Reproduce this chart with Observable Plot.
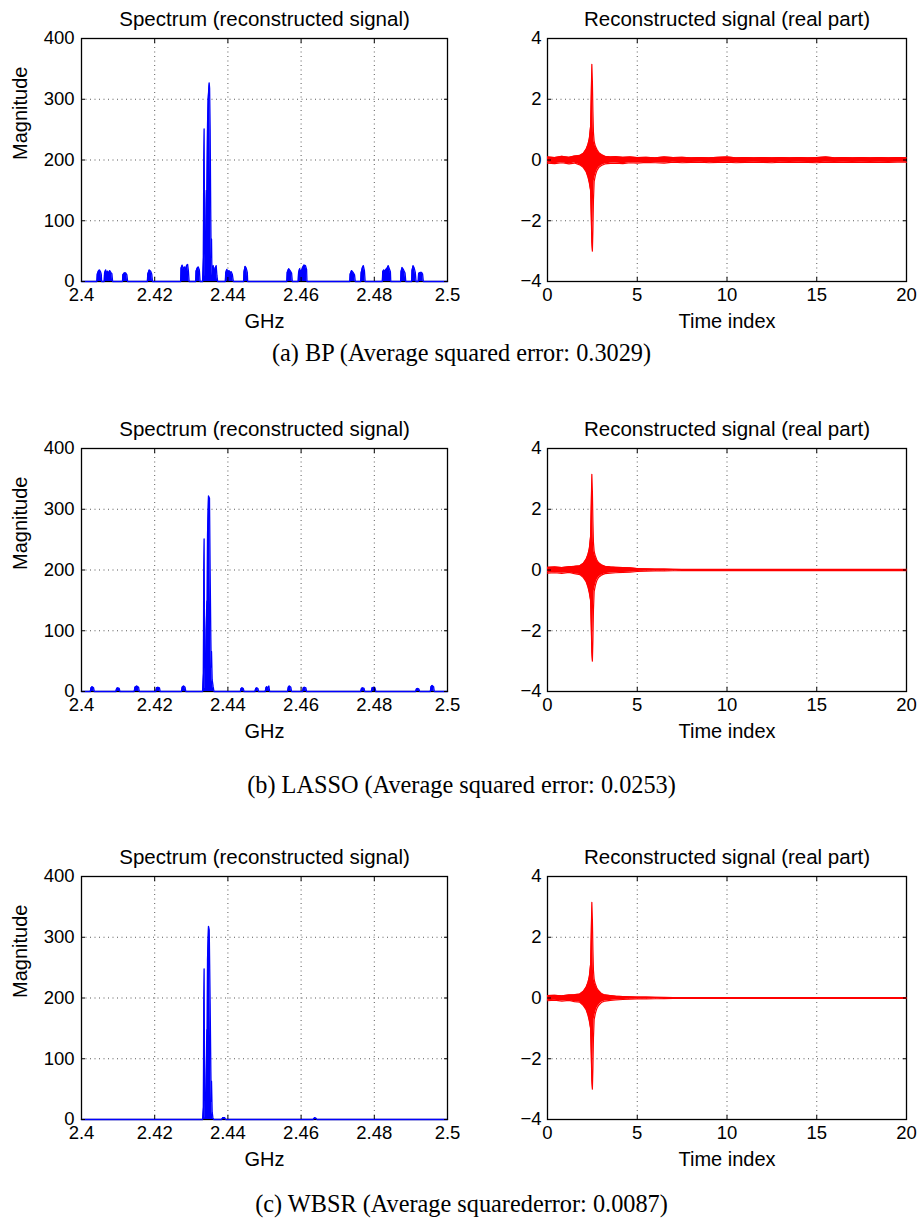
<!DOCTYPE html>
<html><head><meta charset="utf-8">
<script src="https://cdn.jsdelivr.net/npm/d3@7"></script>
<script src="https://cdn.jsdelivr.net/npm/@observablehq/plot@0.6"></script>
<style>
body{margin:0;background:#fff;}
#fig{position:relative;width:919px;height:1226px;overflow:hidden;background:#fff;}
.panel{position:absolute;}
.caption{position:absolute;left:0;width:923px;text-align:center;font-family:"Liberation Serif","Times New Roman",serif;font-size:24.3px;line-height:24px;color:#000;white-space:nowrap;}
</style></head><body><div id="fig"></div>
<script>
// ---------- tick values / labels ----------
const specTicks = [2.4, 2.42, 2.44, 2.46, 2.48, 2.5];
const specTickLabels = ["2.4", "2.42", "2.44", "2.46", "2.48", "2.5"];
const magTicks = [0, 100, 200, 300, 400];
const magTickLabels = ["0", "100", "200", "300", "400"];
const timeTicks = [0, 5, 10, 15, 20];
const timeTickLabels = ["0", "5", "10", "15", "20"];
const ampTicks = [-4, -2, 0, 2, 4];
const ampTickLabels = ["\u22124", "\u22122", "0", "2", "4"];

const specTitle = "Spectrum (reconstructed signal)";
const timeTitle = "Reconstructed signal (real part)";
const specXLabel = "GHz";
const timeXLabel = "Time index";
const specYLabel = "Magnitude";
const captions = [
  "(a) BP (Average squared error: 0.3029)",
  "(b) LASSO (Average squared error: 0.0253)",
  "(c) WBSR (Average squarederror: 0.0087)"
];

// ---------- spectra [GHz, magnitude] ----------
const bpSpectrum = [
  [2.4,0],
  [2.4042,0],[2.4043,12],[2.4046,17],[2.4049,19],[2.4052,16],[2.4054,12],[2.4055,0],
  [2.4062,0],[2.4063,14],[2.4066,19],[2.4069,12],[2.4071,17],[2.4074,13],[2.4077,18],[2.4080,15],[2.4083,13],[2.4085,0],
  [2.4112,0],[2.4113,11],[2.4117,14],[2.4121,14],[2.4124,11],[2.4126,0],
  [2.4180,0],[2.4181,12],[2.4185,19],[2.4189,17],[2.4192,12],[2.4194,0],
  [2.4271,0],[2.4272,22],[2.4275,27],[2.4278,20],[2.4281,24],[2.4284,19],[2.4287,26],[2.4290,28],[2.4292,18],[2.4294,0],
  [2.4312,0],[2.4313,17],[2.4316,22],[2.4319,24],[2.4322,19],[2.4324,0],
  [2.4331,0],[2.4333,40],[2.4334,200],[2.4335,251],[2.4336,110],[2.4337,12],[2.4338,8],[2.43395,60],[2.4341,150],[2.4342,110],
  [2.43443,257],[2.4346,300],[2.43488,327],[2.4350,318],[2.43515,250],[2.4353,120],[2.43542,40],[2.43552,70],[2.4356,30],
  [2.4358,8],[2.4360,26],[2.4362,12],[2.4365,22],[2.4368,26],[2.4370,10],[2.4372,0],
  [2.4393,0],[2.4394,14],[2.4397,20],[2.4400,16],[2.4403,18],[2.4406,14],[2.4409,16],[2.4412,12],[2.4415,0],
  [2.4443,0],[2.4444,16],[2.4447,25],[2.4450,22],[2.4453,15],[2.4454,0],
  [2.4561,0],[2.4562,15],[2.4566,21],[2.4570,18],[2.4574,14],[2.4576,0],
  [2.4592,0],[2.4593,14],[2.4596,21],[2.4599,16],[2.4602,19],[2.4605,24],[2.4608,27],[2.4612,26],[2.4615,20],[2.4616,0],
  [2.4733,0],[2.4734,12],[2.4738,18],[2.4742,15],[2.4746,11],[2.4748,0],
  [2.4763,0],[2.4764,14],[2.4767,22],[2.4770,26],[2.4773,18],[2.4775,0],
  [2.4822,0],[2.4823,16],[2.4826,19],[2.4829,17],[2.4832,20],[2.4835,22],[2.4838,26],[2.4841,21],[2.4844,16],[2.4845,0],
  [2.4872,0],[2.4873,16],[2.4876,23],[2.4880,19],[2.4884,14],[2.4886,0],
  [2.4902,0],[2.4903,18],[2.4906,26],[2.4909,22],[2.4912,15],[2.4914,0],
  [2.4920,0],[2.4921,13],[2.4925,15],[2.4929,15],[2.4932,12],[2.4934,0],
  [2.5,0]
];
const lassoSpectrum = [
  [2.4,0],
  [2.4024,0],[2.4026,6],[2.4029,8],[2.4033,6],[2.4035,0],
  [2.4094,0],[2.4096,5],[2.4099,6],[2.4103,5],[2.4105,0],
  [2.4144,0],[2.4146,7],[2.4151,9],[2.4156,7],[2.4158,0],
  [2.4203,0],[2.4205,6],[2.4209,7],[2.4213,6],[2.4215,0],
  [2.4273,0],[2.4275,7],[2.4279,9],[2.4283,7],[2.4285,0],
  [2.4331,0],[2.4333,30],[2.4334,200],[2.4335,251],[2.4336,100],[2.4337,8],[2.4339,4],[2.43406,100],[2.43424,149],[2.4343,90],
  [2.43443,257],[2.4347,322],[2.43497,318],[2.43515,196],[2.43534,86],[2.43545,40],[2.43552,66],[2.4357,19],[2.43597,8],[2.4362,0],
  [2.4434,0],[2.4436,5],[2.4439,6],[2.4442,5],[2.4444,0],
  [2.4474,0],[2.4476,5],[2.4479,6],[2.4482,5],[2.4484,0],
  [2.4502,0],[2.4504,6],[2.4506,8],[2.4508,5],[2.4510,7],[2.4512,9],[2.4514,0],
  [2.4563,0],[2.4565,7],[2.4568,9],[2.4572,7],[2.4574,0],
  [2.4604,0],[2.4606,6],[2.4609,7],[2.4613,6],[2.4615,0],
  [2.4763,0],[2.4765,5],[2.4768,6],[2.4772,5],[2.4774,0],
  [2.4792,0],[2.4794,6],[2.4798,7],[2.4802,6],[2.4804,0],
  [2.4913,0],[2.4915,4],[2.4918,5],[2.4922,4],[2.4924,0],
  [2.4953,0],[2.4955,8],[2.4958,10],[2.4962,8],[2.4964,0],
  [2.5,0]
];
const wbsrSpectrum = [
  [2.4,0],
  [2.4331,0],[2.4333,20],[2.4334,190],[2.4335,248],[2.4336,90],[2.4337,3],[2.4339,2],[2.43406,62],[2.43424,148],[2.4343,80],
  [2.43443,263],[2.4347,318],[2.4349,312],[2.43515,190],[2.43534,80],[2.43545,30],[2.43552,63],[2.4357,12],[2.4359,3],[2.4361,0],
  [2.4383,0],[2.4386,3],[2.4391,3],[2.4394,0],
  [2.4633,0],[2.4637,3],[2.4641,2],[2.4643,0],
  [2.5,0]
];

// ---------- time signals: envelope (upper / lower) of the real part ----------
const timeIndex = [0,0.4,0.8,1.2,1.5,1.8,2.0,2.15,2.25,2.33,2.4,2.44,2.47,2.5,2.53,2.56,2.6,2.67,2.75,2.85,3.0,3.2,3.5,3.8,4.2,4.6,5.0,5.5,6.0,6.5,7.0,7.5,8.0,8.5,9.0,9.5,10,10.5,11,11.5,12,12.5,13,13.5,14,14.5,15,15.5,16,16.5,17,17.5,18,18.5,19,19.5,20];
const bpUpper = [0.10,0.08,0.12,0.09,0.13,0.15, 0.22,0.35,0.5,0.7,1.1, 2.2,3.15,2.6,1.6,0.9, 0.6,0.45,0.35,0.25,0.18, 0.12,0.10,0.11,0.09,0.10, 0.08,0.09,0.07,0.10,0.08, 0.09,0.07,0.08,0.07,0.09, 0.10,0.07,0.08,0.07,0.08, 0.07,0.08,0.07,0.08,0.07, 0.08,0.10,0.07,0.08,0.07, 0.08,0.07,0.08,0.07,0.08, 0.07];
const bpLower = [-0.10,-0.12,-0.09,-0.13,-0.10,-0.16, -0.25,-0.38,-0.55,-0.75,-1.0, -1.9,-2.7,-3.0,-2.3,-1.3, -0.7,-0.5,-0.35,-0.25,-0.18, -0.13,-0.11,-0.10,-0.12,-0.09, -0.10,-0.08,-0.09,-0.10,-0.07, -0.09,-0.08,-0.07,-0.09,-0.08, -0.07,-0.09,-0.08,-0.07,-0.08, -0.09,-0.07,-0.08,-0.07,-0.08, -0.09,-0.07,-0.08,-0.07,-0.08, -0.07,-0.08,-0.07,-0.08,-0.07, -0.07];
const lassoUpper = [0.09,0.10,0.08,0.11,0.12,0.14, 0.22,0.35,0.5,0.7,1.1, 2.2,3.15,2.6,1.6,0.9, 0.6,0.45,0.33,0.24,0.17, 0.12,0.10,0.09,0.08,0.07, 0.05,0.04,0.03,0.03,0.025, 0.02,0.02,0.02,0.02,0.02, 0.02,0.02,0.02,0.02,0.02, 0.02,0.02,0.02,0.02,0.02, 0.02,0.02,0.02,0.02,0.02, 0.02,0.02,0.02,0.02,0.02, 0.02];
const lassoLower = [-0.10,-0.09,-0.11,-0.08,-0.12,-0.15, -0.25,-0.38,-0.55,-0.75,-1.0, -1.9,-2.7,-3.0,-2.3,-1.3, -0.7,-0.5,-0.34,-0.24,-0.17, -0.12,-0.10,-0.09,-0.08,-0.07, -0.05,-0.04,-0.03,-0.03,-0.025, -0.02,-0.02,-0.02,-0.02,-0.02, -0.02,-0.02,-0.02,-0.02,-0.02, -0.02,-0.02,-0.02,-0.02,-0.02, -0.02,-0.02,-0.02,-0.02,-0.02, -0.02,-0.02,-0.02,-0.02,-0.02, -0.02];
const wbsrUpper = [0.08,0.09,0.07,0.10,0.11,0.13, 0.22,0.35,0.5,0.7,1.1, 2.2,3.15,2.6,1.6,0.9, 0.6,0.45,0.33,0.24,0.15, 0.10,0.08,0.06,0.05,0.04, 0.03,0.03,0.025,0.02,0.015, 0.01,0.01,0.01,0.01,0.01, 0.01,0.01,0.01,0.01,0.01, 0.01,0.01,0.01,0.01,0.01, 0.01,0.01,0.01,0.01,0.01, 0.01,0.01,0.01,0.01,0.01, 0.01];
const wbsrLower = [-0.09,-0.07,-0.10,-0.08,-0.12,-0.14, -0.25,-0.38,-0.55,-0.75,-1.0, -1.9,-2.7,-3.0,-2.3,-1.3, -0.7,-0.5,-0.34,-0.24,-0.15, -0.10,-0.08,-0.06,-0.05,-0.04, -0.03,-0.03,-0.025,-0.02,-0.015, -0.01,-0.01,-0.01,-0.01,-0.01, -0.01,-0.01,-0.01,-0.01,-0.01, -0.01,-0.01,-0.01,-0.01,-0.01, -0.01,-0.01,-0.01,-0.01,-0.01, -0.01,-0.01,-0.01,-0.01,-0.01, -0.01];

const rows = [
  {spec: bpSpectrum, upper: bpUpper, lower: bpLower, top: 0, capTop: 341},
  {spec: lassoSpectrum, upper: lassoUpper, lower: lassoLower, top: 410, capTop: 773},
  {spec: wbsrSpectrum, upper: wbsrUpper, lower: wbsrLower, top: 838, capTop: 1192}
];

// ---------- drawing ----------
const fmt = (ticks, labels) => d => { const i = ticks.indexOf(d); return i < 0 ? "" : labels[i]; };
const gridStyle = {stroke: "#000", strokeOpacity: 0.65, strokeDasharray: "1,3.5"};
const tickFont = 18.5;

function panel(o) {
  return Plot.plot({
    width: o.width, height: 340,
    marginTop: 38, marginBottom: 59, marginLeft: o.marginLeft, marginRight: 13,
    style: {fontFamily: '"Liberation Sans", Arial, Helvetica, sans-serif', fontSize: tickFont + "px", background: "white", color: "black", overflow: "visible"},
    x: {domain: o.xDomain},
    y: {domain: o.yDomain},
    marks: [
      Plot.gridX(o.xTicks, gridStyle),
      Plot.gridY(o.yTicks, gridStyle),
      Plot.frame({stroke: "#000", strokeWidth: 1.3}),
      ...o.marks,
      Plot.axisX(o.xTicks, {anchor: "bottom", tickSize: -4, tickPadding: 10, tickFormat: fmt(o.xTicks, o.xLabels), fontSize: tickFont}),
      Plot.axisX(o.xTicks, {anchor: "top", tickSize: -4, tickFormat: () => ""}),
      Plot.axisY(o.yTicks, {anchor: "left", tickSize: -4, tickPadding: o.yPad, tickFormat: fmt(o.yTicks, o.yLabels), fontSize: tickFont}),
      Plot.axisY(o.yTicks, {anchor: "right", tickSize: -4, tickFormat: () => ""}),
      Plot.text([o.title], {text: d => d, frameAnchor: "top", dy: -13, lineAnchor: "bottom", fontSize: 20.5}),
      Plot.text([o.xLabel], {text: d => d, frameAnchor: "bottom", dy: 46, lineAnchor: "bottom", fontSize: 20}),
      o.yLabel ? Plot.text([o.yLabel], {text: d => d, frameAnchor: "left", dx: -61, rotate: -90, fontSize: 20}) : null
    ]
  });
}

const fig = document.getElementById("fig");
function place(el, left, top) {
  const w = document.createElement("div");
  w.className = "panel";
  w.style.left = left + "px";
  w.style.top = top + "px";
  w.appendChild(el);
  fig.appendChild(w);
}

rows.forEach((r, k) => {
  const idx = d3.range(timeIndex.length);
  const left = panel({
    width: 460, marginLeft: 81, yPad: 11,
    xDomain: [2.4, 2.5], yDomain: [0, 400],
    xTicks: specTicks, xLabels: specTickLabels, yTicks: magTicks, yLabels: magTickLabels,
    title: specTitle, xLabel: specXLabel, yLabel: specYLabel,
    marks: [
      Plot.areaY(r.spec, {x: d => d[0], y1: 0, y2: d => d[1], fill: "#0000ff", curve: "linear"}),
      Plot.lineY(r.spec, {x: d => d[0], y: d => d[1], stroke: "#0000ff", strokeWidth: 1.3, curve: "linear"})
    ]
  });
  const right = panel({
    width: 459, marginLeft: 87, yPad: 10,
    xDomain: [0, 20], yDomain: [-4, 4],
    xTicks: timeTicks, xLabels: timeTickLabels, yTicks: ampTicks, yLabels: ampTickLabels,
    title: timeTitle, xLabel: timeXLabel, yLabel: null,
    marks: [
      Plot.areaY(idx, {x: i => timeIndex[i], y1: i => r.lower[i], y2: i => r.upper[i], fill: "#ff0000", curve: "linear"}),
      Plot.line(idx, {x: i => timeIndex[i], y: i => r.upper[i], stroke: "#ff0000", strokeWidth: 1.2}),
      Plot.line(idx, {x: i => timeIndex[i], y: i => r.lower[i], stroke: "#ff0000", strokeWidth: 1.2})
    ]
  });
  place(left, 0, r.top);
  place(right, 460, r.top);
  const cap = document.createElement("div");
  cap.className = "caption";
  cap.style.top = r.capTop + "px";
  cap.textContent = captions[k];
  fig.appendChild(cap);
});
</script></body></html>
